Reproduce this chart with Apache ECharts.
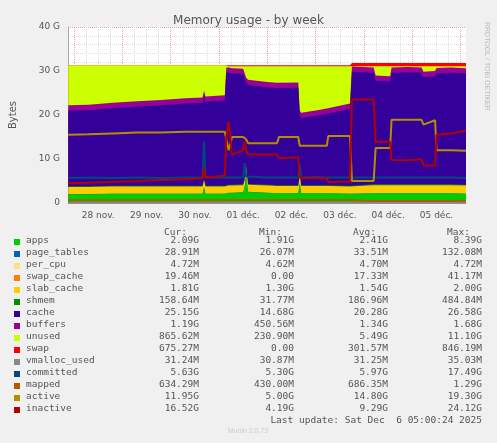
<!DOCTYPE html>
<html><head><meta charset="utf-8">
<script src="https://cdn.jsdelivr.net/npm/echarts@6/dist/echarts.min.js"></script>
<style>html,body{margin:0;background:#f0f0f0}#c{width:497px;height:443px}</style>
</head><body><div id="c"></div>
<script>
// time in days since 27 Nov 00:00
const T = [0.88,1.3,1.8,2.3,2.8,3.3,3.66,3.69,3.72,4.12,4.15,4.2,4.27,4.5,4.53,4.56,4.6,5.0,5.2,5.24,5.64,5.67,5.7,5.74,6.0,6.23,6.26,6.71,6.75,7.2,7.24,7.54,7.57,7.9,8.19,8.23,8.47,8.5,8.8,9.11];
const dayLabels = ['28 nov.','29 nov.','30 nov.','01 déc.','02 déc.','03 déc.','04 déc.','05 déc.'];
const dayLabelPos = [1.5,2.5,3.5,4.5,5.5,6.5,7.5,8.5];
const apps = [2.0,2.0,2.1,2.1,2.1,2.1,2.1,3.5,2.1,2.1,2.2,2.3,2.3,2.4,3.5,6.5,2.5,2.3,2.2,2.2,2.2,4.5,2.2,2.2,2.2,2.2,2.2,2.1,2.2,2.2,2.2,2.2,2.2,2.2,2.2,2.2,2.2,2.2,2.2,2.1];
const page_tables = T.map(()=>0.03);
const per_cpu = T.map(()=>0.005);
const swap_cache = T.map(()=>0.02);
const slab_cache = [1.6,1.6,1.6,1.6,1.6,1.6,1.6,1.6,1.6,1.6,1.6,1.6,1.6,1.6,1.6,1.6,1.6,1.6,1.6,1.6,1.6,1.6,1.6,1.6,1.6,1.6,1.6,1.6,1.8,1.8,1.8,1.8,1.8,1.8,1.8,1.8,1.8,1.8,1.8,1.8];
const shmem = T.map(()=>0.18);
const cache = [17.17,17.27,17.67,17.97,18.27,18.67,18.87,18.97,19.07,19.37,25.57,25.47,25.27,25.07,23.97,18.97,22.47,22.17,22.07,22.07,22.17,13.47,15.27,15.17,15.77,16.27,16.57,17.47,25.57,25.37,23.57,23.37,25.37,25.47,25.37,24.37,24.57,25.27,25.37,25.27];
const buffers = T.map(()=>1.2);
const unused = [9.1,9.0,8.5,8.2,7.9,7.5,7.3,5.8,7.1,6.8,0.25,0.25,0.45,0.55,0.55,2.55,3.05,3.55,3.75,3.75,3.65,10.05,10.55,10.65,10.05,9.55,9.25,8.45,0.1,0.3,2.1,2.3,0.3,0.2,0.3,1.3,1.1,0.4,0.3,0.5];
const swap = [0,0,0,0,0,0,0,0,0,0,0.25,0.25,0.25,0.25,0.25,0.25,0.25,0.25,0.25,0.25,0.25,0.25,0.25,0.25,0.25,0.25,0.25,0.25,0.7,0.7,0.7,0.7,0.7,0.7,0.7,0.7,0.7,0.7,0.7,0.7];
const vmalloc_used = T.map(()=>0.03);
const committed = [5.7,5.8,5.7,5.8,5.7,5.8,5.8,14,5.8,5.8,5.9,5.8,5.8,5.8,9,6,5.8,5.8,5.8,5.8,5.8,9,5.8,5.8,5.9,5.8,5.8,5.8,5.7,5.8,5.8,5.8,5.7,5.8,5.8,5.7,5.8,5.8,5.8,5.7];
const mapped = [0.65,0.65,0.65,0.65,0.65,0.65,0.65,0.7,0.65,0.65,0.7,0.7,0.7,0.7,0.7,0.7,0.7,0.7,0.7,0.7,0.7,0.7,0.7,0.7,0.7,0.7,0.7,0.7,0.45,0.45,0.45,0.45,0.45,0.45,0.45,0.45,0.45,0.45,0.45,0.5];
const active = [15.5,15.6,15.8,16.0,16.0,16.2,16.2,16.2,16.2,16.2,14.5,12.0,15.0,15.0,14.8,14.5,13.6,13.6,13.6,15.0,15.0,13.0,13.0,13.0,13.0,13.0,15.2,15.2,5.0,5.0,12.5,12.5,18.9,18.9,18.9,17.8,18.8,12.0,12.0,11.9];
const inactive = [4.5,4.6,4.8,5.0,5.2,5.4,5.6,8.0,5.8,6.2,15.0,18.5,11.0,12.0,14.0,12.0,11.0,11.0,11.0,10.2,10.4,5.8,5.7,5.7,5.7,5.6,4.8,4.9,23.5,23.5,13.9,13.9,9.8,9.7,9.9,8.6,8.5,15.5,15.8,16.5];

const legendRows = [
 ['apps','#00CC00','2.09G','1.91G','2.41G','8.39G'],
 ['page_tables','#0066B3','28.91M','26.07M','33.51M','132.08M'],
 ['per_cpu','#FFE080','4.72M','4.62M','4.70M','4.72M'],
 ['swap_cache','#FF8000','19.46M','0.00','17.33M','41.17M'],
 ['slab_cache','#FFCC00','1.81G','1.30G','1.54G','2.00G'],
 ['shmem','#008F00','158.64M','31.77M','186.96M','484.84M'],
 ['cache','#330099','25.15G','14.68G','20.28G','26.58G'],
 ['buffers','#990099','1.19G','450.56M','1.34G','1.68G'],
 ['unused','#CCFF00','865.62M','230.90M','5.49G','11.10G'],
 ['swap','#FF0000','675.27M','0.00','301.57M','846.19M'],
 ['vmalloc_used','#888888','31.24M','30.87M','31.25M','35.03M'],
 ['committed','#00487D','5.63G','5.30G','5.97G','17.49G'],
 ['mapped','#B35A00','634.29M','430.00M','686.35M','1.29G'],
 ['active','#B38F00','11.95G','5.00G','14.80G','19.30G'],
 ['inactive','#B30000','16.52G','4.19G','9.29G','24.12G']
];
const stackOrder = [['apps',apps],['page_tables',page_tables],['per_cpu',per_cpu],['swap_cache',swap_cache],['slab_cache',slab_cache],['shmem',shmem],['cache',cache],['buffers',buffers],['unused',unused],['swap',swap]];
const lines = {vmalloc_used,committed,mapped,active,inactive};
const col = Object.fromEntries(legendRows.map(r=>[r[0],r[1]]));
const pts = a => a.map((v,i)=>[T[i],v]);
// stacking (cumulative), drawn top layer first so lower layers paint over
let run = T.map(()=>0);
const stackSeries = stackOrder.map(([k,a])=>{ run = run.map((s,i)=>s+a[i]); return {name:k,type:'line',data:pts(run),symbol:'none',lineStyle:{width:0},areaStyle:{color:col[k],opacity:1,origin:'start'},itemStyle:{color:col[k]},z:2}; });
const series = stackSeries.reverse();
for (const k in lines) series.push({name:k,type:'line',data:pts(lines[k]),symbol:'none',lineStyle:{width:2,color:col[k]},z:3});

const sixH=[]; for(let d=1;d<=9.01;d+=0.25) sixH.push(d);
const days=[1,2,3,4,5,6,7,8,9];
const mono='DejaVu Sans Mono';
const g=[];
const colsX=[199,294,388,482];
['Cur:','Min:','Avg:','Max:'].forEach((h,i)=>g.push({type:'text',x:colsX[i]-12,y:228,style:{text:h,font:'9.5px '+mono,fill:'#555',textAlign:'right'}}));
legendRows.forEach((r,j)=>{
  const y=240+j*12;
  g.push({type:'rect',shape:{x:14,y:y-1,width:6,height:6},style:{fill:r[1]}});
  g.push({type:'text',x:26,y:y-4,style:{text:r[0],font:'9.5px '+mono,fill:'#555'}});
  for(let i=0;i<4;i++) g.push({type:'text',x:colsX[i],y:y-4,style:{text:r[2+i],font:'9.5px '+mono,fill:'#555',textAlign:'right'}});
});
g.push({type:'text',x:482,y:416,style:{text:'Last update: Sat Dec  6 05:00:24 2025',font:'9.5px '+mono,fill:'#555',textAlign:'right'}});
g.push({type:'text',x:248,y:428,style:{text:'Munin 2.0.73',font:'7px sans-serif',fill:'#ccc',textAlign:'center'}});
g.push({type:'text',x:490,y:22,rotation:-Math.PI/2,style:{text:'RRDTOOL / TOBI OETIKER',font:'7px sans-serif',fill:'#bbb'}});

const chart=echarts.init(document.getElementById('c'));
chart.setOption({
 backgroundColor:'#f0f0f0', animation:false,
 title:{text:'Memory usage - by week',left:'center',top:10,textStyle:{fontFamily:'DejaVu Sans',fontSize:12,fontWeight:'normal',color:'#555'}},
 grid:{left:67,right:31,top:27,bottom:240,backgroundColor:'#fff',show:true,borderWidth:0},
 xAxis:[
  {type:'value',min:0.875,max:9.11,axisLine:{show:true,lineStyle:{color:'#aaa'}},
   axisTick:{show:false,customValues:sixH},splitLine:{show:true,lineStyle:{color:'#ddd',type:'dotted'}},
   axisLabel:{customValues:dayLabelPos,formatter:v=>dayLabels[Math.round(v-1.5)],color:'#555',fontFamily:'DejaVu Sans',fontSize:9}},
  {type:'value',min:0.875,max:9.11,position:'bottom',axisLine:{show:false},axisLabel:{show:false},
   axisTick:{show:false,customValues:days},splitLine:{show:true,lineStyle:{color:'#f4a0a0',type:'dotted'}}}
 ],
 yAxis:{type:'value',min:0,max:40,interval:10,name:'Bytes',nameLocation:'middle',nameGap:50,nameTextStyle:{color:'#555',fontFamily:'DejaVu Sans',fontSize:10},
   axisLine:{show:true,lineStyle:{color:'#aaa'}},axisTick:{show:false},
   axisLabel:{formatter:v=>v===0?'0':v+' G',color:'#555',fontFamily:'DejaVu Sans',fontSize:9},
   splitLine:{lineStyle:{color:'#f4a0a0',type:'dotted'}},minorTick:{show:false,splitNumber:5},minorSplitLine:{show:true,lineStyle:{color:'#ddd',type:'dotted'}}},
 series, graphic:g
});
</script></body></html>
